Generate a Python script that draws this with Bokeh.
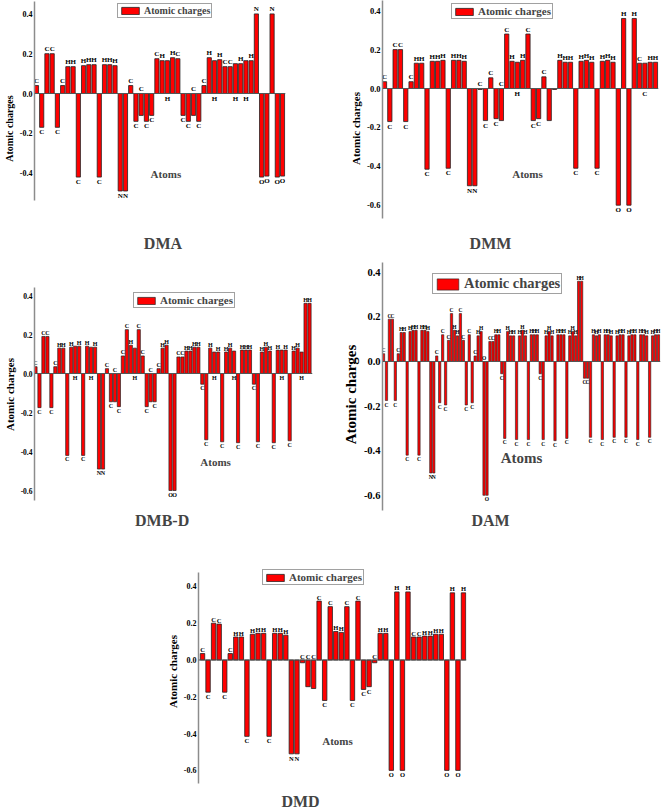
from bokeh.plotting import figure
from bokeh.layouts import column, row
from bokeh.models import Span, Label, FixedTicker, PrintfTickFormatter, ColumnDataSource
from bokeh.core.properties import value
from bokeh.embed import file_html
from bokeh.resources import INLINE

SERIF = "Liberation Serif"
RED = "#FF0000"

# ------------------------------------------------------------------ data
tick_values = [-0.6, -0.4, -0.2, 0.0, 0.2, 0.4]
series_name = "Atomic charges"
x_label = "Atoms"
y_label = "Atomic charges"

dma_atoms = ["C", "C", "C", "C", "C", "C", "H", "H", "C", "H", "H", "H", "C", "H", "H", "H", "N", "N",
             "C", "C", "C", "C", "C", "C", "H", "H", "H", "C", "C", "C", "C", "C", "C", "H", "H", "H",
             "C", "C", "H", "H", "H", "H", "N", "O", "O", "N", "O", "O"]
dma_charges = [0.04, -0.17, 0.20, 0.20, -0.17, 0.04, 0.135, 0.135, -0.42, 0.14, 0.145, 0.145, -0.42, 0.145, 0.145, 0.14, -0.49, -0.49,
               0.04, -0.14, -0.11, -0.14, -0.11, 0.175, 0.165, 0.165, 0.18, 0.175, -0.11, -0.14, -0.11, -0.14, 0.04, 0.18, 0.165, 0.17,
               0.135, 0.135, 0.15, 0.15, 0.165, 0.165, 0.40, -0.42, -0.415, 0.40, -0.42, -0.415]

dmm_atoms = ["C", "C", "C", "C", "C", "C", "H", "H", "C", "H", "H", "H", "C", "H", "H", "H", "N", "N",
             "C", "C", "C", "C", "C", "C", "H", "H", "H", "C", "C", "C", "C", "C", "C",
             "H", "H", "H", "C", "H", "H", "H", "C", "H", "H", "H", "O", "H", "O", "H", "C", "C", "H", "H"]
dmm_charges = [0.035, -0.17, 0.20, 0.20, -0.17, 0.035, 0.13, 0.13, -0.415, 0.14, 0.14, 0.145, -0.41, 0.145, 0.145, 0.14, -0.50, -0.50,
               -0.005, -0.165, 0.055, -0.155, -0.165, 0.28, 0.14, 0.135, 0.145, 0.28, -0.165, -0.155, 0.06, -0.165, -0.005,
               0.145, 0.135, 0.135, -0.41, 0.14, 0.145, 0.135, -0.41, 0.14, 0.145, 0.135, -0.60, 0.36, -0.60, 0.36, 0.13, 0.13, 0.135, 0.135]

dmbd_atoms = ["C", "C", "C", "C", "C", "C", "H", "H", "C", "H", "H", "H", "C", "H", "H", "H", "N", "N",
              "C", "C", "C", "C", "C", "C", "H", "H", "C", "C", "C", "C", "C", "C", "H", "H", "O", "O",
              "C", "C", "H", "H", "H", "H", "C", "C", "H", "H", "H", "C", "H", "H", "H", "C", "H", "H", "H",
              "C", "C", "H", "H", "H", "C", "H", "H", "H", "C", "H", "H", "H", "H", "H"]
dmbd_charges = [0.035, -0.175, 0.19, 0.19, -0.175, 0.035, 0.13, 0.13, -0.42, 0.135, 0.14, 0.14, -0.42, 0.14, 0.135, 0.135, -0.49, -0.49,
                0.025, -0.145, -0.145, -0.17, 0.09, 0.225, 0.145, 0.13, 0.225, 0.09, -0.17, -0.145, -0.145, 0.025, 0.13, 0.145, -0.60, -0.60,
                0.085, 0.085, 0.115, 0.115, 0.135, 0.135, -0.055, -0.34, 0.13, 0.11, 0.11, -0.35, 0.11, 0.13, 0.115, -0.355, 0.12, 0.12, 0.12,
                -0.055, -0.35, 0.11, 0.135, 0.115, -0.355, 0.12, 0.12, 0.12, -0.345, 0.115, 0.13, 0.11, 0.36, 0.36]

dam_atoms = ["C", "C", "C", "C", "C", "C", "H", "H", "C", "H", "H", "H", "C", "H", "H", "H", "N", "N",
             "C", "C", "C", "C", "C", "C", "H", "H", "C", "C", "C", "C", "C", "C", "H", "H", "O", "O",
             "C", "C", "H", "H", "C", "C", "H", "H", "H", "C", "H", "H", "H", "C", "H", "H", "H",
             "C", "C", "H", "H", "H", "C", "H", "H", "H", "C", "H", "H", "H", "H", "H",
             "C", "C", "C", "H", "H", "H", "C", "H", "H", "H", "C", "H", "H", "H", "C", "H", "H", "H",
             "C", "H", "H", "H", "C", "H", "H", "H"]
dam_charges = [0.035, -0.175, 0.19, 0.19, -0.175, 0.035, 0.13, 0.13, -0.42, 0.135, 0.14, 0.14, -0.42, 0.14, 0.14, 0.135, -0.50, -0.50,
               0.025, -0.185, 0.12, -0.195, 0.095, 0.215, 0.14, 0.115, 0.215, 0.095, -0.195, 0.12, -0.185, 0.025, 0.115, 0.135, -0.60, -0.60,
               0.09, 0.09, 0.12, 0.12, -0.055, -0.345, 0.135, 0.115, 0.115, -0.35, 0.115, 0.14, 0.115, -0.35, 0.12, 0.12, 0.12,
               -0.055, -0.35, 0.115, 0.135, 0.115, -0.355, 0.12, 0.12, 0.12, -0.345, 0.115, 0.135, 0.115, 0.36, 0.36,
               -0.075, -0.075, -0.34, 0.12, 0.115, 0.12, -0.35, 0.12, 0.12, 0.115, -0.34, 0.115, 0.12, 0.12, -0.34, 0.115, 0.12, 0.12,
               -0.35, 0.12, 0.12, 0.115, -0.34, 0.115, 0.12, 0.12]

dmd_atoms = ["C", "C", "C", "C", "C", "C", "H", "H", "C", "H", "H", "H", "C", "H", "H", "H", "N", "N",
             "C", "C", "C", "C", "C", "C", "H", "H", "C", "C", "C", "C", "C", "C", "H", "H",
             "O", "H", "O", "H", "C", "C", "H", "H", "H", "H", "O", "H", "O", "H"]
dmd_charges = [0.035, -0.175, 0.20, 0.195, -0.175, 0.035, 0.125, 0.125, -0.415, 0.14, 0.145, 0.145, -0.415, 0.145, 0.145, 0.135, -0.51, -0.51,
               -0.015, -0.145, -0.155, 0.32, -0.22, 0.29, 0.155, 0.15, 0.29, -0.22, 0.32, -0.16, -0.145, -0.015, 0.145, 0.145,
               -0.60, 0.37, -0.60, 0.37, 0.125, 0.125, 0.13, 0.13, 0.14, 0.14, -0.60, 0.365, -0.60, 0.365]

# ------------------------------------------------------------------ layout / style (screen px of the page)
geom = {
    "DMA": dict(fig=(0, 0, 335, 256), frame=(29, 285), gap=(2, 3), zero=93, ppu=199, bounds=(-0.54, 0.46),
                legend=(112, 4), atoms=(163, 173), title=(160, 243), tick=8, ylab=10, leg=10, atf=11, lab=7,
                glyph=(22, 9), bw=0.8, lw=0.8, flip=[21, 26, 31, 35, 39, 41], hidden=[]),
    "DMM": dict(fig=(335, 0, 327, 256), frame=(382, 658), gap=(2, 3), zero=88, ppu=194.5, bounds=(-0.67, 0.45),
                legend=(451, 4), atoms=(527, 173), title=(490, 243), tick=8.5, ylab=11, leg=11, atf=11, lab=7,
                glyph=(22, 9), bw=0.8, lw=0.8, flip=[19, 23, 26, 50], hidden=[32, 33]),
    "DMB-D": dict(fig=(0, 256, 335, 276), frame=(31, 312), gap=(1, 3), zero=373, ppu=195, bounds=(-0.65, 0.44),
                  legend=(130, 293), atoms=(214, 461), title=(160, 520), tick=7.5, ylab=11, leg=11, atf=11, lab=6,
                  glyph=(22, 9), bw=0.8, lw=0.7, flip=[11, 15, 21, 26, 30, 46, 51, 63, 68], hidden=[]),
    "DAM": dict(fig=(335, 256, 327, 276), frame=(382, 660), gap=(1, 2), zero=361, ppu=223, bounds=(-0.667, 0.445),
                legend=(432, 275), atoms=(521, 457), title=(490, 520), tick=10.5, ylab=15, leg=14.5, atf=15, lab=5.5,
                glyph=(27, 14), bw=0.78, lw=0.6, flip=[35], hidden=[]),
    "DMD": dict(fig=(0, 532, 662, 278), frame=(198, 466), gap=(4, 3), zero=659.5, ppu=184, bounds=(-0.67, 0.477),
                legend=(262, 570), atoms=(337, 740), title=(300, 801), tick=8, ylab=11, leg=11, atf=11, lab=6.5,
                glyph=(22, 9), bw=0.8, lw=0.8, flip=[19, 20, 21, 32], hidden=[]),
}


def build(name, atoms, charges):
    g = geom[name]
    n = len(charges)
    fl, fr = g["frame"]
    gl, gr = g["gap"]
    dx = ((fr - gr) - (fl + gl)) / (n - 1)
    x0 = 1 - gl / dx
    x1 = x0 + (fr - fl) / dx
    fx, fy, fw, fh = g["fig"]
    z, ppu = g["zero"], g["ppu"]
    y1 = (z - fy) / ppu
    y0 = -(fy + fh - z) / ppu

    def X(sx):
        return x0 + (sx - fl) / dx

    def Y(sy):
        return (z - sy) / ppu

    p = figure(width=fw, height=fh, x_range=(x0, x1), y_range=(y0, y1),
               output_backend="svg", toolbar_location=None,
               x_axis_location=None, y_axis_location="left",
               min_border_left=fl - fx, min_border_right=fx + fw - fr,
               min_border_top=0, min_border_bottom=0)
    p.outline_line_color = None
    p.grid.grid_line_color = None
    p.background_fill_color = "white"

    p.add_layout(Span(location=0, dimension="width", line_color="#555555", line_width=1))

    src = ColumnDataSource(dict(x=list(range(1, n + 1)), charge=charges, atom=atoms))
    p.vbar(x="x", top="charge", bottom=0, width=g["bw"], source=src,
           fill_color=RED, line_color="#222222", line_width=g["lw"], legend_label=series_name)

    ux, uy, ut, dxs, dys, dts = [], [], [], [], [], []
    for i, (a, c) in enumerate(zip(atoms, charges), start=1):
        if i in g["hidden"]:
            continue
        up = c >= 0
        yv = c
        if i in g["flip"]:
            up = not up
            yv = 0.0
        if up:
            ux.append(i); uy.append(yv); ut.append(a)
        else:
            dxs.append(i); dys.append(yv); dts.append(a)
    common = dict(text_align="center", text_font=value(SERIF), text_font_style="bold",
                  text_font_size=f"{g['lab']}px", text_color="black")
    p.text(x=ux, y=uy, text=ut, text_baseline="bottom", y_offset=-0.5, **common)
    p.text(x=dxs, y=dys, text=dts, text_baseline="top", y_offset=1, **common)

    ax = p.yaxis[0]
    lo, hi = g["bounds"]
    ax.ticker = FixedTicker(ticks=[t for t in tick_values if lo - 1e-9 <= t <= hi + 1e-9])
    ax.formatter = PrintfTickFormatter(format="%.1f")
    ax.bounds = (lo, hi)
    ax.axis_line_color = "#8c8c8c"
    ax.axis_line_width = 1.5
    ax.major_tick_line_color = None
    ax.minor_tick_line_color = None
    ax.major_tick_out = 0
    ax.major_tick_in = 0
    ax.major_label_standoff = 2
    ax.major_label_text_font = SERIF
    ax.major_label_text_font_style = "bold"
    ax.major_label_text_font_size = f"{g['tick']}px"
    ax.major_label_text_color = "black"
    ax.axis_label = y_label
    ax.axis_label_standoff = 2
    ax.axis_label_text_font = SERIF
    ax.axis_label_text_font_style = "bold"
    ax.axis_label_text_font_size = f"{g['ylab']}px"
    ax.axis_label_text_color = "black"

    leg = p.legend[0]
    gw, gh = g["glyph"]
    pad = 1
    leg_h = 2 * pad + max(gh, g["leg"] * 1.2)
    leg.location = (g["legend"][0] - fl, fy + fh - g["legend"][1] - leg_h)
    leg.margin = 0
    leg.padding = pad
    leg.spacing = 0
    leg.glyph_width = gw
    leg.glyph_height = gh
    leg.label_height = gh
    leg.label_standoff = 3
    leg.label_text_font = SERIF
    leg.label_text_font_style = "bold"
    leg.label_text_font_size = f"{g['leg']}px"
    leg.border_line_color = "#444444"
    leg.border_line_width = 1
    leg.background_fill_alpha = 1

    p.add_layout(Label(x=X(g["atoms"][0]), y=Y(g["atoms"][1]), text=x_label, text_align="center",
                       text_baseline="middle", text_font=SERIF, text_font_style="bold",
                       text_font_size=f"{g['atf']}px"))
    p.add_layout(Label(x=X(g["title"][0]), y=Y(g["title"][1]), text=name, text_align="center",
                       text_baseline="middle", text_font=SERIF, text_font_style="bold",
                       text_font_size="16px"))
    return p


p1 = build("DMA", dma_atoms, dma_charges)
p2 = build("DMM", dmm_atoms, dmm_charges)
p3 = build("DMB-D", dmbd_atoms, dmbd_charges)
p4 = build("DAM", dam_atoms, dam_charges)
p5 = build("DMD", dmd_atoms, dmd_charges)

layout = column(row(p1, p2), row(p3, p4), p5)
open("out.html", "w").write(file_html(layout, INLINE, title="Atomic charges"))
